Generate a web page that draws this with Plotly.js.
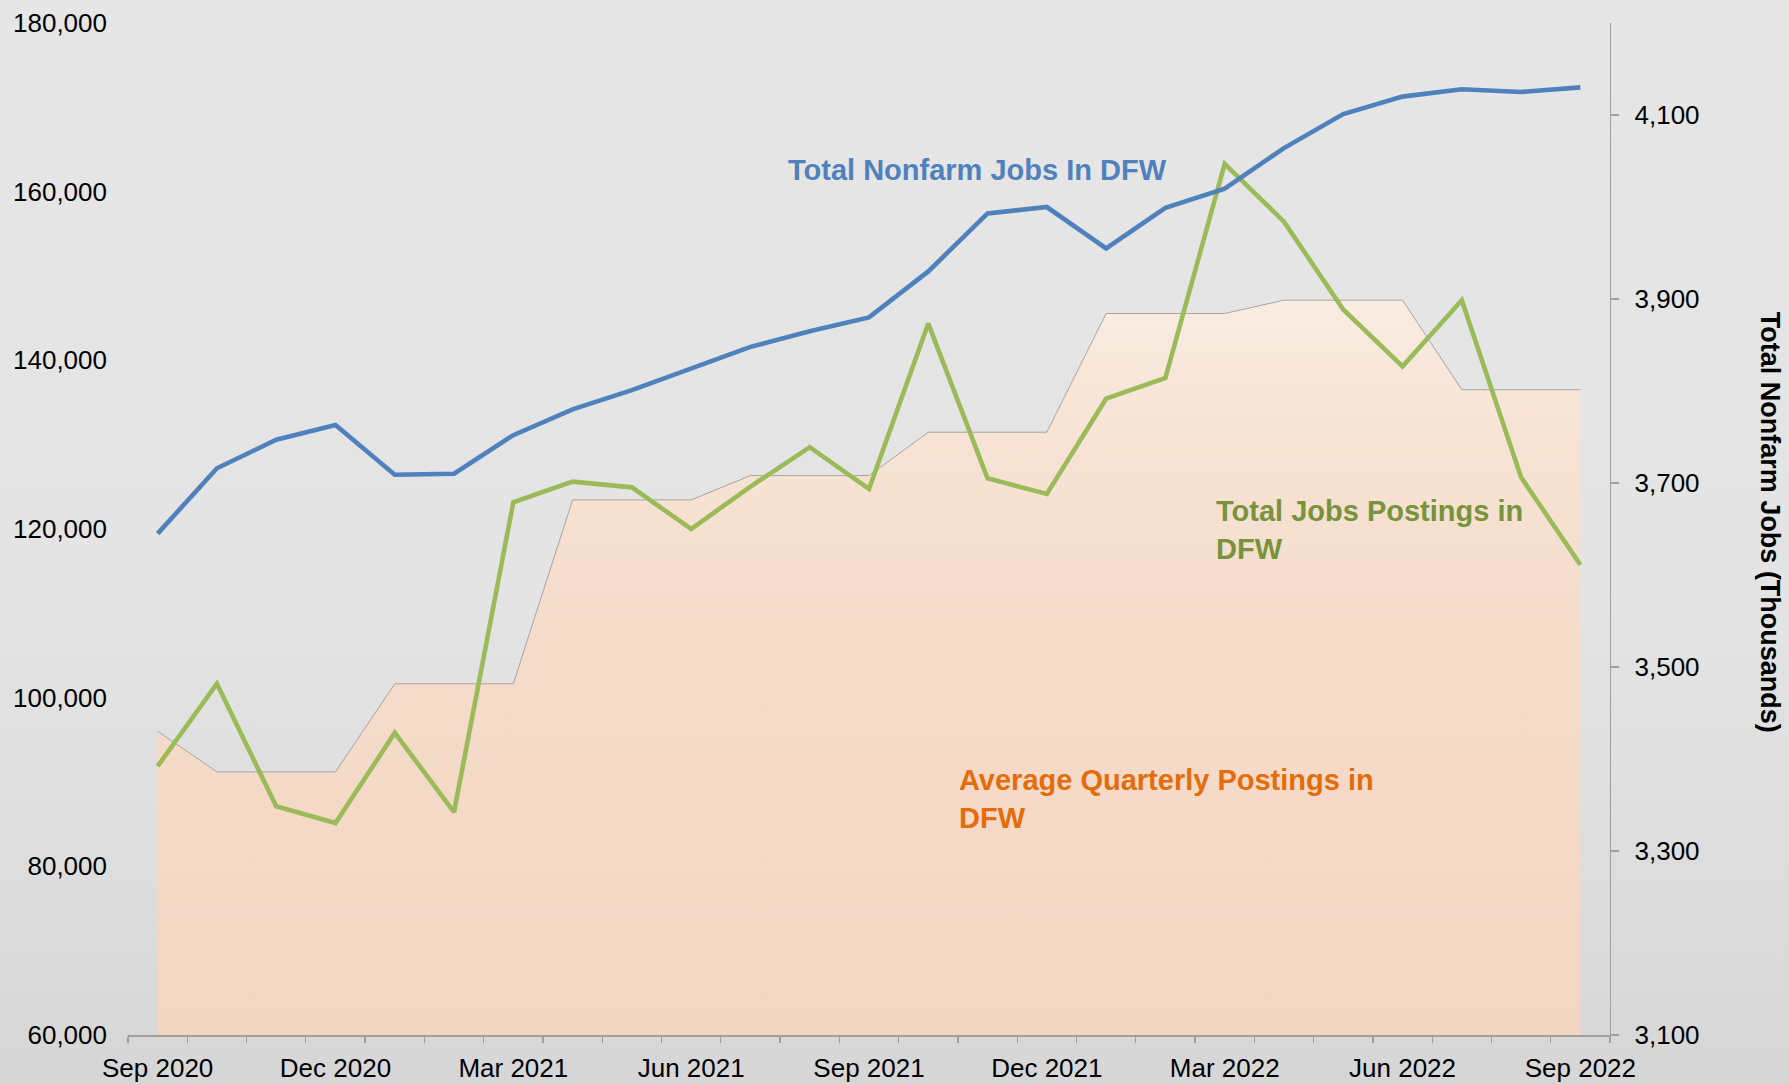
<!DOCTYPE html>
<html>
<head>
<meta charset="utf-8">
<script src="https://cdn.plot.ly/plotly-3.0.1.min.js"></script>
<style>
  html, body { margin: 0; padding: 0; }
  #chart {
    width: 1789px; height: 1084px;
    background: linear-gradient(to bottom, #e7e6e6 0%, #e4e4e4 55%, #dadada 90%, #d6d6d6 100%);
  }
</style>
</head>
<body>
<div id="chart"></div>
<script>
// ---- Data ----
const months = ['Sep 2020','Oct 2020','Nov 2020','Dec 2020','Jan 2021','Feb 2021','Mar 2021',
  'Apr 2021','May 2021','Jun 2021','Jul 2021','Aug 2021','Sep 2021','Oct 2021','Nov 2021',
  'Dec 2021','Jan 2022','Feb 2022','Mar 2022','Apr 2022','May 2022','Jun 2022','Jul 2022',
  'Aug 2022','Sep 2022'];

// Total Jobs Postings in DFW (left axis)
const postings = [91870, 101650, 87120, 85130, 95830, 86440, 123160, 125620, 124940, 120000,
  125030, 129700, 124750, 144360, 126010, 124160, 135450, 137900, 163290, 156440, 146030,
  139290, 147130, 126130, 115760];

// Average Quarterly Postings in DFW (left axis, area)
const quarterlyAvg = [96030, 91200, 91200, 91200, 101650, 101650, 101650, 123450, 123450, 123450,
  126330, 126330, 126330, 131480, 131480, 131480, 145550, 145550, 145550, 147130, 147130,
  147130, 136520, 136520, 136520];

// Total Nonfarm Jobs in DFW, thousands (right axis)
const nonfarm = [3645, 3716, 3747, 3763, 3709, 3710, 3752, 3780, 3801, 3824, 3848, 3865, 3880,
  3930, 3993, 4000, 3955, 3999, 4020, 4064, 4101, 4120, 4128, 4125, 4130];

const tickLabels = ['Sep 2020','Dec 2020','Mar 2021','Jun 2021','Sep 2021','Dec 2021',
  'Mar 2022','Jun 2022','Sep 2022'];

// ---- Build chart ----
const xs = months.map((m, i) => i);
const tickvals = tickLabels.map(l => months.indexOf(l));
const boundaries = [];
for (let i = 0; i <= months.length; i++) boundaries.push(i - 0.5);

const FONT = '"Liberation Sans", Arial, sans-serif';

const traces = [
  {
    x: xs, y: quarterlyAvg, type: 'scatter', mode: 'lines',
    name: 'Average Quarterly Postings in DFW',
    fill: 'tozeroy',
    line: { color: '#a9a4a0', width: 1 },
    fillcolor: '#f5dfcf',
    fillgradient: {
      type: 'vertical', start: 60000, stop: 148000,
      colorscale: [[0, '#f3d6c1'], [0.55, '#f5dccb'], [0.85, '#f7e5d7'], [1, '#f9ede3']]
    },
    hoverinfo: 'skip'
  },
  {
    x: xs, y: postings, type: 'scatter', mode: 'lines',
    name: 'Total Jobs Postings in DFW',
    line: { color: '#9bbb59', width: 4.6 }
  },
  {
    x: xs, y: nonfarm, type: 'scatter', mode: 'lines', yaxis: 'y2',
    name: 'Total Nonfarm Jobs In DFW',
    line: { color: '#4f81bd', width: 4.6 }
  }
];

const layout = {
  width: 1789, height: 1084,
  margin: { l: 128, r: 179, t: 23, b: 49 },
  paper_bgcolor: 'rgba(0,0,0,0)',
  plot_bgcolor: 'rgba(0,0,0,0)',
  showlegend: false,
  font: { family: FONT, size: 26, color: '#000000' },
  xaxis: {
    range: [-0.5, months.length - 0.5],
    tickmode: 'array', tickvals: tickvals, ticktext: tickLabels,
    ticks: '', showgrid: false, zeroline: false,
    showline: true, linecolor: '#9f9f9f', linewidth: 1.5,
    tickfont: { family: FONT, size: 26, color: '#000' },
    ticklabelstandoff: 9,
    minor: { tickmode: 'array', tickvals: boundaries, ticks: 'outside', ticklen: 6,
             tickcolor: '#9f9f9f', tickwidth: 1.3, showgrid: false }
  },
  yaxis: {
    range: [60000, 180000], dtick: 20000, tick0: 60000,
    tickformat: ',d', showgrid: false, zeroline: false,
    showline: false, ticks: '',
    tickfont: { family: FONT, size: 26, color: '#000' },
    ticklabelstandoff: 20
  },
  yaxis2: {
    overlaying: 'y', side: 'right',
    range: [3100, 4200], tickmode: 'array',
    tickvals: [3100, 3300, 3500, 3700, 3900, 4100],
    tickformat: ',d', showgrid: false, zeroline: false,
    showline: true, linecolor: '#9f9f9f', linewidth: 1.3,
    ticks: 'outside', ticklen: 8, tickcolor: '#9f9f9f', tickwidth: 1.3,
    tickfont: { family: FONT, size: 26, color: '#000' },
    ticklabelstandoff: 10
  },
  annotations: [
    {
      text: '<b>Total Nonfarm Jobs In DFW</b>', xref: 'x', yref: 'y',
      x: 10.6, y: 162600, xanchor: 'left', yanchor: 'middle', showarrow: false,
      font: { family: FONT, size: 29, color: '#4f81bd' }
    },
    {
      text: '<b>Total Jobs Postings in<br>DFW</b>', xref: 'x', yref: 'y',
      x: 17.82, y: 119900, xanchor: 'left', yanchor: 'middle', align: 'left', showarrow: false,
      font: { family: FONT, size: 29, color: '#77933c' }
    },
    {
      text: '<b>Average Quarterly Postings in<br>DFW</b>', xref: 'x', yref: 'y',
      x: 13.49, y: 88000, xanchor: 'left', yanchor: 'middle', align: 'left', showarrow: false,
      font: { family: FONT, size: 29, color: '#e46c0a' }
    },
    {
      text: '<b>Total Nonfarm Jobs (Thousands)</b>', xref: 'paper', yref: 'paper',
      x: 1.108, y: 0.507, xanchor: 'center', yanchor: 'middle', textangle: 90, showarrow: false,
      font: { family: FONT, size: 27, color: '#000' }
    }
  ]
};

Plotly.newPlot('chart', traces, layout, { staticPlot: true, displayModeBar: false });
</script>
</body>
</html>
